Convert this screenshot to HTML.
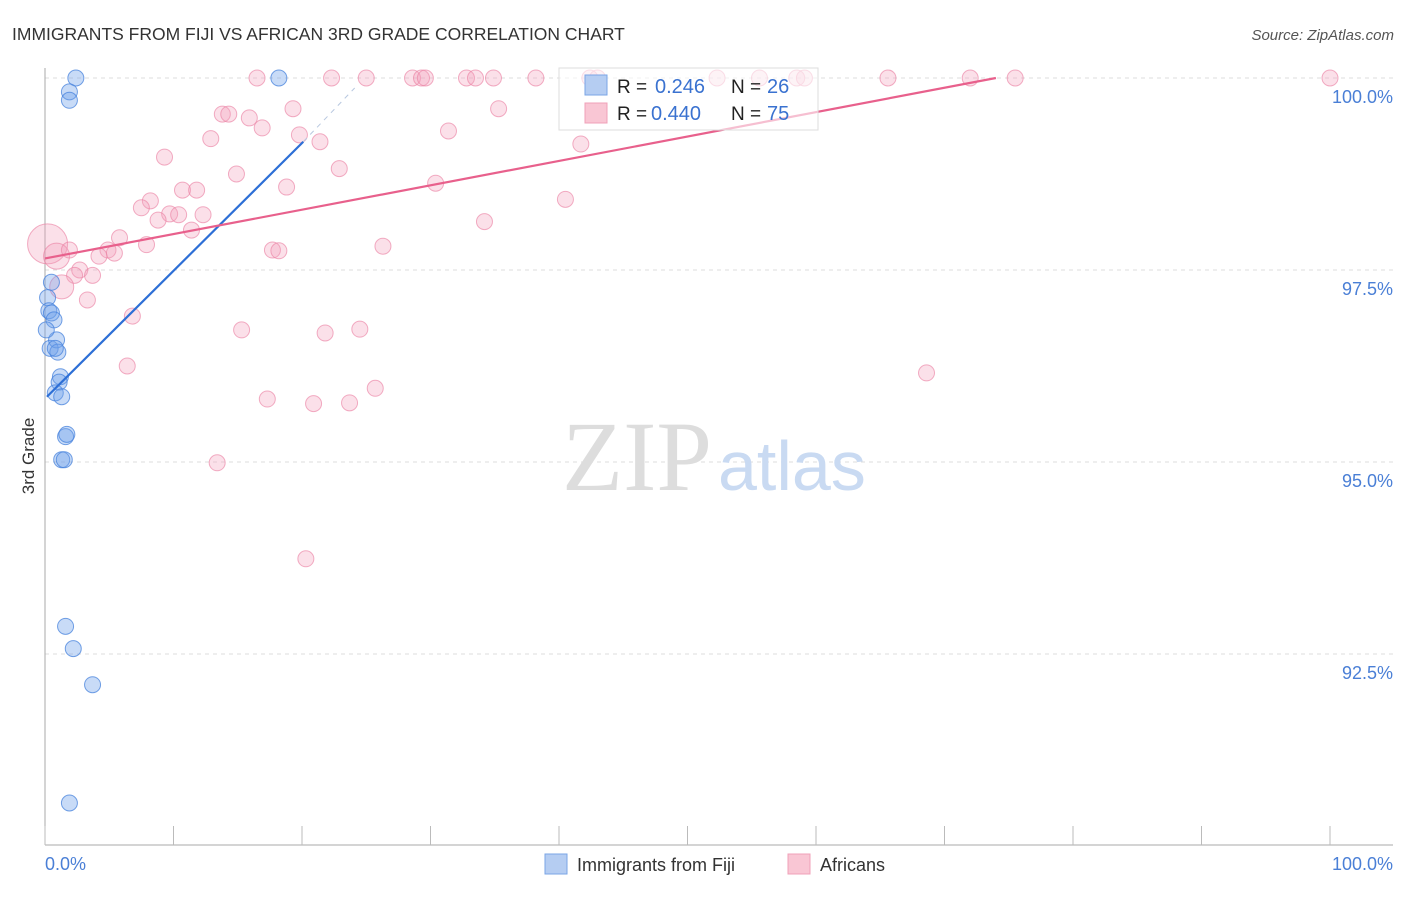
<!DOCTYPE html>
<html><head><meta charset="utf-8"><style>
body{margin:0;background:#fff;font-family:"Liberation Sans",sans-serif}
</style></head><body>
<svg width="1406" height="892" viewBox="0 0 1406 892" xmlns="http://www.w3.org/2000/svg" style="font-family:'Liberation Sans',sans-serif">
<text x="12" y="40" font-size="17.5" fill="#333">IMMIGRANTS FROM FIJI VS AFRICAN 3RD GRADE CORRELATION CHART</text>
<text x="1394" y="40" font-size="15" fill="#555" font-style="italic" text-anchor="end">Source: ZipAtlas.com</text>
<g id="grid"></g>
<text x="712" y="490" font-size="100" fill="#ddd" text-anchor="end" font-family="Liberation Serif,serif">ZIP</text>
<text x="718" y="490" font-size="70" fill="#c9daf2">atlas</text>
<line x1="45" y1="68" x2="45" y2="845" stroke="#aaa"/>
<line x1="45" y1="845" x2="1393" y2="845" stroke="#aaa"/>
<g id="xt"></g>
<text x="34" y="456" font-size="17" fill="#333" text-anchor="middle" transform="rotate(-90 34 456)">3rd Grade</text>
<text x="45" y="870" font-size="18" fill="#4a7fd6">0.0%</text>
<text x="1393" y="870" font-size="18" fill="#4a7fd6" text-anchor="end">100.0%</text>
<g id="pts"></g>
<g id="lines"></g>
<g>
<rect x="559" y="68" width="259" height="62" fill="#fff" fill-opacity="0.6" stroke="#ddd"/>
<rect x="585" y="75" width="22" height="20" fill="#b5cdf2" stroke="#7aa5e6"/>
<rect x="585" y="103" width="22" height="20" fill="#f9c6d4" stroke="#f0a0b8"/>
<text x="617" y="93" font-size="19" fill="#222">R =</text>
<text x="655" y="93" font-size="20" fill="#3a72d0">0.246</text>
<text x="731" y="93" font-size="19" fill="#222">N =</text>
<text x="767" y="93" font-size="20" fill="#3a72d0">26</text>
<text x="617" y="120" font-size="19" fill="#222">R =</text>
<text x="651" y="120" font-size="20" fill="#3a72d0">0.440</text>
<text x="731" y="120" font-size="19" fill="#222">N =</text>
<text x="767" y="120" font-size="20" fill="#3a72d0">75</text>
</g>
<g>
<rect x="545" y="854" width="22" height="20" fill="#b5cdf2" stroke="#7aa5e6"/>
<text x="577" y="871" font-size="18" fill="#333">Immigrants from Fiji</text>
<rect x="788" y="854" width="22" height="20" fill="#f9c6d4" stroke="#f0a0b8"/>
<text x="820" y="871" font-size="18" fill="#333">Africans</text>
</g>
</svg>
<script>
const yTicks=[100,97.5,95,92.5];
const yTickLabels=["100.0%","97.5%","95.0%","92.5%"];
const xTicks=[0,10,20,30,40,50,60,70,80,90,100];
const fijiX=[2.4,1.9,1.9,18.2,0.5,0.2,0.3,0.5,0.7,0.4,0.9,1.0,0.8,1.2,1.1,0.8,1.3,1.6,1.7,1.3,1.5,1.6,2.2,3.7,1.9,0.1];
const fijiY=[100,99.82,99.71,100,97.34,97.14,96.97,96.94,96.85,96.48,96.59,96.43,96.48,96.11,96.04,95.90,95.85,95.33,95.36,95.03,95.03,92.86,92.57,92.10,90.56,96.72];
const afrX=[16.5,22.3,25.0,28.6,29.3,29.6,32.8,33.5,34.9,38.2,42.4,43.0,52.3,55.6,58.5,59.1,65.6,72.0,75.5,100,
19.3,35.3,13.8,14.3,15.9,16.9,31.4,12.9,19.8,21.4,41.7,9.3,14.9,22.9,18.8,30.4,10.7,11.8,8.2,7.5,40.5,9.7,10.4,8.8,12.3,34.2,11.4,5.8,7.9,0.2,0.9,1.9,4.9,5.4,4.2,17.7,18.2,26.3,2.7,2.3,3.7,1.3,3.3,6.8,15.3,21.8,24.5,6.4,68.6,25.7,17.3,20.9,23.7,13.4,20.3];
const afrY=[100,100,100,100,100,100,100,100,100,100,100,100,100,100,100,100,100,100,100,100,
99.60,99.60,99.53,99.53,99.48,99.35,99.31,99.21,99.26,99.17,99.14,98.97,98.75,98.82,98.58,98.63,98.54,98.54,98.40,98.31,98.42,98.23,98.22,98.15,98.22,98.13,98.02,97.92,97.83,97.84,97.68,97.76,97.76,97.72,97.68,97.76,97.75,97.81,97.50,97.43,97.43,97.28,97.11,96.90,96.72,96.68,96.73,96.25,96.16,95.96,95.82,95.76,95.77,94.99,93.74];
const afrR=[];afrX.forEach((v,i)=>afrR.push(i===49?20:(i===50?13:(i===61?12:8))));
const fijiTrend=[[0.15,95.85],[20.1,99.17]];
const fijiDash=[[20.1,99.17],[24.1,99.87]];
const afrTrend=[[0,97.65],[74,100]];
const X=v=>45+v*12.85, Y=v=>78+(100-v)*76.8;
const NS="http://www.w3.org/2000/svg";
function mk(t,a,p){const e=document.createElementNS(NS,t);for(const k in a)e.setAttribute(k,a[k]);p.appendChild(e);return e;}
const grid=document.getElementById('grid');
yTicks.forEach((t,i)=>{
 const l=mk('line',{x1:45,x2:1393,y1:Y(t),y2:Y(t),stroke:'#ddd','stroke-dasharray':'4,4'},grid);
 
 
 const tx=mk('text',{x:1393,y:Y(t)+25,'font-size':18,fill:'#4a7fd6','text-anchor':'end'},grid);
 tx.textContent=yTickLabels[i];
 
 
});
const xt=document.getElementById('xt');
xTicks.forEach(t=>{const l=mk('line',{x1:X(t),x2:X(t),y1:826,y2:845,stroke:'#bbb'},xt);
 
 });
const pts=document.getElementById('pts');
afrX.forEach((v,i)=>{const c=mk('circle',{cx:X(v),cy:Y(afrY[i]),r:afrR[i],fill:'rgba(244,160,188,0.32)',stroke:'rgba(235,130,165,0.65)'},pts);
 
 });
fijiX.forEach((v,i)=>{const c=mk('circle',{cx:X(v),cy:Y(fijiY[i]),r:8,fill:'rgba(110,160,235,0.38)',stroke:'rgba(70,130,220,0.75)'},pts);
 
 });
const lines=document.getElementById('lines');
function ln(p,st,dash,name){const l=mk('line',{x1:X(p[0][0]),y1:Y(p[0][1]),x2:X(p[1][0]),y2:Y(p[1][1]),stroke:st,'stroke-width':dash?1:2.2},lines);
 if(dash)l.setAttribute('stroke-dasharray','5,5');
 
 }
ln(fijiTrend,'#2d6fd6',false,'fiji-trend-line');
ln(fijiDash,'#b8c8e0',true,'fiji-trend-extension');
ln(afrTrend,'#e8608c',false,'africans-trend-line');
</script>
</body></html>
